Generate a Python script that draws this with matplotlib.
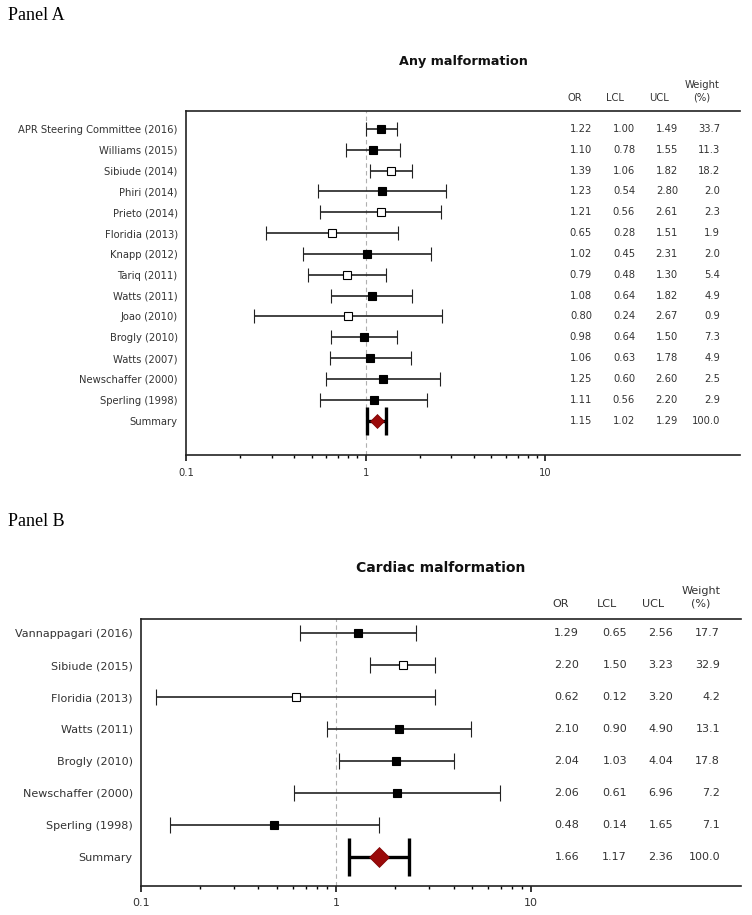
import matplotlib
matplotlib.use('Agg')
import matplotlib.pyplot as plt
from matplotlib.transforms import blended_transform_factory
from matplotlib.ticker import NullFormatter

# Panel A - any malformation
a_studies = ['APR Steering Committee (2016)', 'Williams (2015)', 'Sibiude (2014)', 'Phiri (2014)',
             'Prieto (2014)', 'Floridia (2013)', 'Knapp (2012)', 'Tariq (2011)', 'Watts (2011)',
             'Joao (2010)', 'Brogly (2010)', 'Watts (2007)', 'Newschaffer (2000)', 'Sperling (1998)']
a_or = [1.22, 1.10, 1.39, 1.23, 1.21, 0.65, 1.02, 0.79, 1.08, 0.80, 0.98, 1.06, 1.25, 1.11]
a_lcl = [1.00, 0.78, 1.06, 0.54, 0.56, 0.28, 0.45, 0.48, 0.64, 0.24, 0.64, 0.63, 0.60, 0.56]
a_ucl = [1.49, 1.55, 1.82, 2.80, 2.61, 1.51, 2.31, 1.30, 1.82, 2.67, 1.50, 1.78, 2.60, 2.20]
a_weight = [33.7, 11.3, 18.2, 2.0, 2.3, 1.9, 2.0, 5.4, 4.9, 0.9, 7.3, 4.9, 2.5, 2.9]
a_open = [False, False, True, False, True, True, False, True, False, True, False, False, False, False]
a_summary = [1.15, 1.02, 1.29, 100.0]

# Panel B - cardiac malformation
b_studies = ['Vannappagari (2016)', 'Sibiude (2015)', 'Floridia (2013)', 'Watts (2011)',
             'Brogly (2010)', 'Newschaffer (2000)', 'Sperling (1998)']
b_or = [1.29, 2.20, 0.62, 2.10, 2.04, 2.06, 0.48]
b_lcl = [0.65, 1.50, 0.12, 0.90, 1.03, 0.61, 0.14]
b_ucl = [2.56, 3.23, 3.20, 4.90, 4.04, 6.96, 1.65]
b_weight = [17.7, 32.9, 4.2, 13.1, 17.8, 7.2, 7.1]
b_open = [False, True, True, False, False, False, False]
b_summary = [1.66, 1.17, 2.36, 100.0]

W, H = 752, 915
TXT = '#333333'
plt.rcParams['font.family'] = 'DejaVu Sans'

fig = plt.figure(figsize=(W / 100, H / 100), dpi=100)


def fx(px):
    return px / W


def fy(py):
    return 1 - py / H


def forest(box, studies, ors, lcls, ucls, weights, opens, summary, ylim, xmax,
           cap, scap, ms, dms, fs, cols, hdr_y, title, title_y):
    left, top, right, bottom = box
    ax = fig.add_axes([fx(left), fy(bottom), fx(right) - fx(left), fy(top) - fy(bottom)])
    ax.set_xscale('log')
    ax.set_xlim(0.1, xmax)
    ax.set_ylim(*ylim)

    ax.axvline(1, color='#b0b0b0', lw=0.8, ls=(0, (4, 3)), zorder=1)

    n = len(studies)
    for i in range(n):
        fc = 'white' if opens[i] else 'black'
        ax.errorbar(ors[i], i, xerr=[[ors[i] - lcls[i]], [ucls[i] - ors[i]]],
                    fmt='s', color='#222222', ecolor='#222222', elinewidth=1.2,
                    capsize=cap, capthick=1.2, ms=ms, mfc=fc, mec='black', mew=0.8, zorder=3)
    s_or, s_l, s_u, s_w = summary
    ax.errorbar(s_or, n, xerr=[[s_or - s_l], [s_u - s_or]], fmt='none',
                ecolor='black', elinewidth=2.4, capsize=scap, capthick=2.4, zorder=3)
    ax.plot(s_or, n, marker='D', ms=dms, color='#9a0a0a', mec='#7a0000', mew=0.5, zorder=4)

    ax.set_yticks(range(n + 1))
    ax.set_yticklabels(studies + ['Summary'], fontsize=fs, color=TXT)
    ax.tick_params(axis='y', length=0, pad=6)

    ax.set_xticks([0.1, 1, 10])
    ax.set_xticklabels(['0.1', '1', '10'], fontsize=fs, color=TXT)
    ax.set_xticks([0.2, 0.3, 0.4, 0.5, 0.6, 0.7, 0.8, 0.9, 2, 3, 4, 5, 6, 7, 8, 9], minor=True)
    ax.xaxis.set_minor_formatter(NullFormatter())
    ax.tick_params(axis='x', which='major', direction='out', length=4, width=1.1, pad=5)
    ax.tick_params(axis='x', which='minor', direction='out', length=2, width=1.0)

    ax.spines['right'].set_visible(False)
    for sp in ['left', 'top', 'bottom']:
        ax.spines[sp].set_linewidth(1.2)
        ax.spines[sp].set_color('#222222')

    # numeric columns, right aligned
    tr = blended_transform_factory(ax.transAxes, ax.transData)
    width = right - left
    rows = list(zip(ors, lcls, ucls, weights)) + [tuple(summary)]
    for i, (o, l, u, w) in enumerate(rows):
        for px, val in zip(cols[0], ['%.2f' % o, '%.2f' % l, '%.2f' % u, '%.1f' % w]):
            ax.text((px - left) / width, i, val, transform=tr, ha='right', va='center',
                    fontsize=fs, color=TXT)

    # headers
    for px, lab in zip(cols[1], ['OR', 'LCL', 'UCL']):
        fig.text(fx(px), fy(hdr_y), lab, ha='center', va='center', fontsize=fs, color=TXT)
    fig.text(fx(cols[1][3]), fy(hdr_y - 13), 'Weight', ha='center', va='center', fontsize=fs, color=TXT)
    fig.text(fx(cols[1][3]), fy(hdr_y), '(%)', ha='center', va='center', fontsize=fs, color=TXT)

    fig.text(fx((left + right) / 2), fy(title_y), title, ha='center', va='center',
             fontsize=fs + 2, fontweight='bold', color='#111111')
    return ax


fig.text(fx(8), fy(16), 'Panel A', family='Liberation Serif', fontsize=13, ha='left', va='center')
forest((186, 111, 740, 455), a_studies, a_or, a_lcl, a_ucl, a_weight, a_open, a_summary,
       (15.65, -0.86), 121, cap=4.7, scap=10, ms=5.5, dms=7.5, fs=7.2,
       cols=([592, 635, 678, 720], [575, 615, 659, 702]), hdr_y=98,
       title='Any malformation', title_y=62)

fig.text(fx(8), fy(521), 'Panel B', family='Liberation Serif', fontsize=13, ha='left', va='center')
forest((141, 619, 741, 886), b_studies, b_or, b_lcl, b_ucl, b_weight, b_open, b_summary,
       (7.91, -0.44), 119, cap=6.1, scap=13.5, ms=6, dms=10.5, fs=8,
       cols=([579, 627, 673, 720], [561, 607, 653, 701]), hdr_y=604,
       title='Cardiac malformation', title_y=568)

fig.savefig('out.png', dpi=100)
